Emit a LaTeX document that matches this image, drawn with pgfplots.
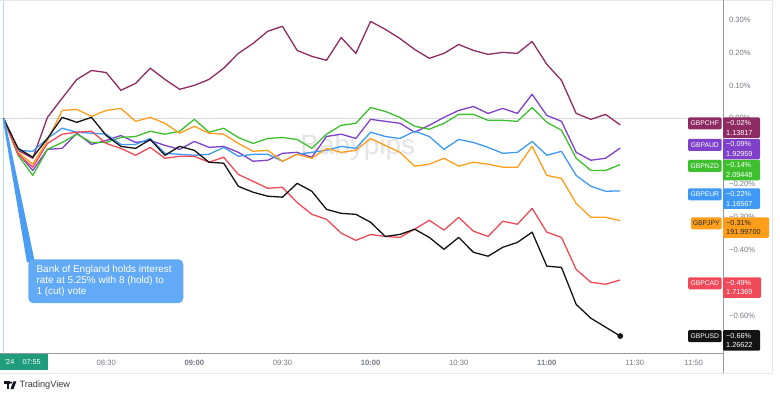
\documentclass[border=0pt]{standalone}
\usepackage{fontspec}
\setmainfont{Liberation Sans}
\usepackage{pgfplots}
\pgfplotsset{compat=1.18}
\usepackage{pgfplotstable}
\definecolor{chf}{HTML}{8E2B63}
\definecolor{aud}{HTML}{7F41C9}
\definecolor{nzd}{HTML}{3EC02E}
\definecolor{eur}{HTML}{3E99F5}
\definecolor{jpy}{HTML}{FF9E1B}
\definecolor{cad}{HTML}{F04A5A}
\definecolor{usd}{HTML}{131313}
\definecolor{tickc}{HTML}{787B86}
\definecolor{zerol}{HTML}{D6D8DE}
\definecolor{axisg}{HTML}{9598A1}
\definecolor{bordg}{HTML}{E6E8EE}
\definecolor{wm}{HTML}{E4E4E4}
\definecolor{tealline}{HTML}{B3E0DA}
\definecolor{timeg}{HTML}{1E9C7C}
\definecolor{callout}{HTML}{62A9F6}
\definecolor{ptr}{HTML}{4B9DF3}
\definecolor{logo}{HTML}{131722}

\pgfplotstableread{
t chf aud nzd eur jpy cad usd
0 0 0 0 0 0 0 0
5 -0.097 -0.106 -0.112 -0.097 -0.103 -0.109 -0.091
10 -0.121 -0.158 -0.173 -0.100 -0.139 -0.148 -0.118
15 0.003 -0.094 -0.094 -0.061 -0.067 -0.076 -0.061
20 0.061 -0.091 -0.073 -0.030 0.024 -0.048 0.003
25 0.118 -0.045 -0.048 -0.042 0.027 -0.042 -0.012
30 0.145 -0.079 -0.073 -0.045 0.006 -0.039 0.003
35 0.139 -0.067 -0.073 -0.048 0.024 -0.076 -0.052
40 0.085 -0.052 -0.058 -0.079 0.030 -0.091 -0.085
45 0.106 -0.073 -0.055 -0.079 -0.009 -0.112 -0.091
50 0.152 -0.067 -0.039 -0.061 0.003 -0.088 -0.064
55 0.118 -0.082 -0.048 -0.106 -0.015 -0.121 -0.112
60 0.088 -0.094 -0.039 -0.109 -0.045 -0.115 -0.085
65 0.100 -0.070 -0.003 -0.112 -0.024 -0.115 -0.097
70 0.118 -0.088 -0.042 -0.109 -0.045 -0.133 -0.133
75 0.152 -0.085 -0.030 -0.088 -0.048 -0.118 -0.136
80 0.197 -0.103 -0.058 -0.115 -0.076 -0.170 -0.206
85 0.227 -0.130 -0.076 -0.109 -0.100 -0.191 -0.224
90 0.264 -0.127 -0.061 -0.109 -0.097 -0.212 -0.236
95 0.279 -0.106 -0.058 -0.130 -0.130 -0.209 -0.239
100 0.206 -0.103 -0.064 -0.109 -0.109 -0.255 -0.197
105 0.188 -0.118 -0.091 -0.103 -0.121 -0.291 -0.221
110 0.176 -0.055 -0.048 -0.097 -0.091 -0.306 -0.276
115 0.245 -0.048 -0.021 -0.085 -0.103 -0.348 -0.288
120 0.197 -0.061 -0.015 -0.091 -0.097 -0.370 -0.291
125 0.294 -0.003 0.033 -0.042 -0.061 -0.352 -0.315
130 0.270 -0.009 0.021 -0.055 -0.082 -0.358 -0.358
135 0.242 -0.015 0.003 -0.061 -0.103 -0.361 -0.352
140 0.209 -0.042 -0.024 -0.039 -0.145 -0.336 -0.336
145 0.182 -0.021 -0.033 -0.055 -0.139 -0.309 -0.361
150 0.197 0.003 -0.015 -0.094 -0.121 -0.339 -0.397
155 0.224 0.024 0.012 -0.064 -0.145 -0.300 -0.361
160 0.206 0.036 0.012 -0.073 -0.133 -0.342 -0.406
165 0.194 0.015 -0.006 -0.088 -0.139 -0.358 -0.418
170 0.200 0.030 -0.006 -0.106 -0.148 -0.312 -0.391
175 0.197 0.015 -0.009 -0.103 -0.148 -0.321 -0.376
180 0.233 0.073 0.033 -0.070 -0.085 -0.273 -0.345
185 0.164 0.009 -0.012 -0.112 -0.173 -0.345 -0.448
190 0.115 -0.009 -0.036 -0.100 -0.182 -0.361 -0.452
195 0.015 -0.103 -0.121 -0.173 -0.258 -0.458 -0.564
200 -0.003 -0.127 -0.158 -0.206 -0.300 -0.497 -0.606
205 0.012 -0.121 -0.158 -0.221 -0.300 -0.503 -0.633
210 -0.020 -0.090 -0.140 -0.220 -0.310 -0.490 -0.660
}\fx

% #1 fill, #2 text colour, #3 top (px), #4 name, #5 pct, #6 price, #7 right edge, #8 name left edge
\newcommand{\lbl}[8]{%
  \fill[#1, rounded corners=1.2bp] (#8,#3) rectangle (721.5,#3+12);
  \node[text=#2, font=\fontsize{6.8}{8}\selectfont, inner sep=0] at ({(#8+721.5)/2},#3+6.2) {#4};
  \fill[#1, rounded corners=1.2bp] (723,#3) rectangle (#7,#3+20.5);
  \node[anchor=west, text=#2, font=\fontsize{7.3}{8}\selectfont, inner sep=0] at (726,#3+5.6) {#5};
  \node[anchor=west, text=#2, font=\fontsize{7.3}{8}\selectfont, inner sep=0] at (726,#3+15.2) {#6};
}

\begin{document}
\begin{tikzpicture}
\begin{scope}[yshift=399bp, x=1bp, y=-1bp]
  \fill[white] (0,0) rectangle (780,399);
  \path[use as bounding box] (0,0) rectangle (780,399);
  \draw[bordg, line width=0.8bp] (0,0.5) -- (772,0.5);
  \draw[bordg, line width=0.8bp] (772,0) -- (772,373) -- (0,373);
  \node[anchor=west, text=wm, font=\fontsize{28}{30}\selectfont, inner sep=0] at (300,147) {Babypips};
  \draw[zerol, line width=1.6bp] (0,118) -- (723,118);
  \draw[tealline, line width=1.2bp] (3.2,1) -- (3.2,353);
\end{scope}

\begin{axis}[
  at={(3bp,46bp)}, anchor=south west,
  scale only axis, width=720bp, height=350bp,
  xmin=0, xmax=245, ymin=-0.7121, ymax=0.3485,
  axis line style={draw=none},
  major tick length=0pt,
  xtick={35,65,95,125,155,185,215,235},
  xticklabels={08:30,\textbf{09:00},09:30,\textbf{10:00},10:30,\textbf{11:00},11:30,11:50},
  ytick={-0.6,-0.4,-0.3,-0.2,0,0.1,0.2,0.3},
  yticklabels={−0.60\%,−0.40\%,−0.30\%,−0.20\%,0.00\%,0.10\%,0.20\%,0.30\%},
  yticklabel pos=right,
  tick label style={font=\fontsize{7.7}{9}\selectfont, text=tickc},
  xticklabel style={anchor=center, yshift=-9.5bp},
  yticklabel style={xshift=2.5bp},
  every axis plot/.append style={line width=1.3bp, line join=round},
]
\addplot[chf] table[x=t, y=chf] {\fx};
\addplot[aud] table[x=t, y=aud] {\fx};
\addplot[nzd] table[x=t, y=nzd] {\fx};
\addplot[eur] table[x=t, y=eur] {\fx};
\addplot[jpy] table[x=t, y=jpy] {\fx};
\addplot[cad] table[x=t, y=cad] {\fx};
\addplot[usd] table[x=t, y=usd] {\fx};
\addplot[usd, only marks, mark=*, mark size=2.2bp] coordinates {(210,-0.660)};
\end{axis}

\begin{scope}[yshift=399bp, x=1bp, y=-1bp]
  % axes lines
  \draw[axisg, line width=0.8bp] (0,353) -- (723,353);
  \draw[axisg, line width=0.8bp] (723,0) -- (723,373);
  % callout
  \fill[ptr] (2.2,118) -- (26.5,262) -- (34.5,262) -- (4.2,118) -- cycle;
  \fill[callout, rounded corners=5bp] (28,259) rectangle (183,303);
  \node[anchor=north west, align=left, text=white, font=\fontsize{10}{11}\selectfont, inner sep=0] at (36,265.2)
    {Bank of England holds interest\\rate at 5.25\% with 8 (hold) to\\1 (cut) vote};
  % right-side labels
  \lbl{chf}{white}{117}{GBPCHF}{−0.02\%}{1.13817}{760}{688}
  \lbl{aud}{white}{138.5}{GBPAUD}{−0.09\%}{1.92959}{760}{688}
  \lbl{nzd}{white}{159.5}{GBPNZD}{−0.14\%}{2.09448}{760}{688}
  \lbl{eur}{white}{188}{GBPEUR}{−0.22\%}{1.16567}{760}{688}
  \lbl{jpy}{black!85}{217}{GBPJPY}{−0.31\%}{191.99700}{769}{691}
  \lbl{cad}{white}{277}{GBPCAD}{−0.49\%}{1.71369}{761}{688}
  \lbl{usd}{white}{330}{GBPUSD}{−0.66\%}{1.26622}{760}{688}
  % time badge
  \fill[timeg] (0,353.4) rectangle (48,370);
  \node[anchor=west, text=white, font=\fontsize{7.3}{8}\selectfont, inner sep=0] at (4,361.8) {'24};
  \node[anchor=west, text=white, font=\fontsize{7.3}{8}\selectfont, inner sep=0] at (22,361.8) {07:55};
  % TradingView logo
  \fill[logo] (4,381.2) rectangle (9.3,383.6);
  \fill[logo] (6.3,381.2) rectangle (8.6,389);
  \fill[logo] (10.6,382.4) circle (1.25);
  \fill[logo] (13,381.2) -- (16,381.2) -- (13,389) -- (10,389) -- cycle;
  \node[anchor=west, text=logo!85, font=\fontsize{9.2}{10}\selectfont, inner sep=0] at (19,385.3) {TradingView};
\end{scope}
\end{tikzpicture}
\end{document}
